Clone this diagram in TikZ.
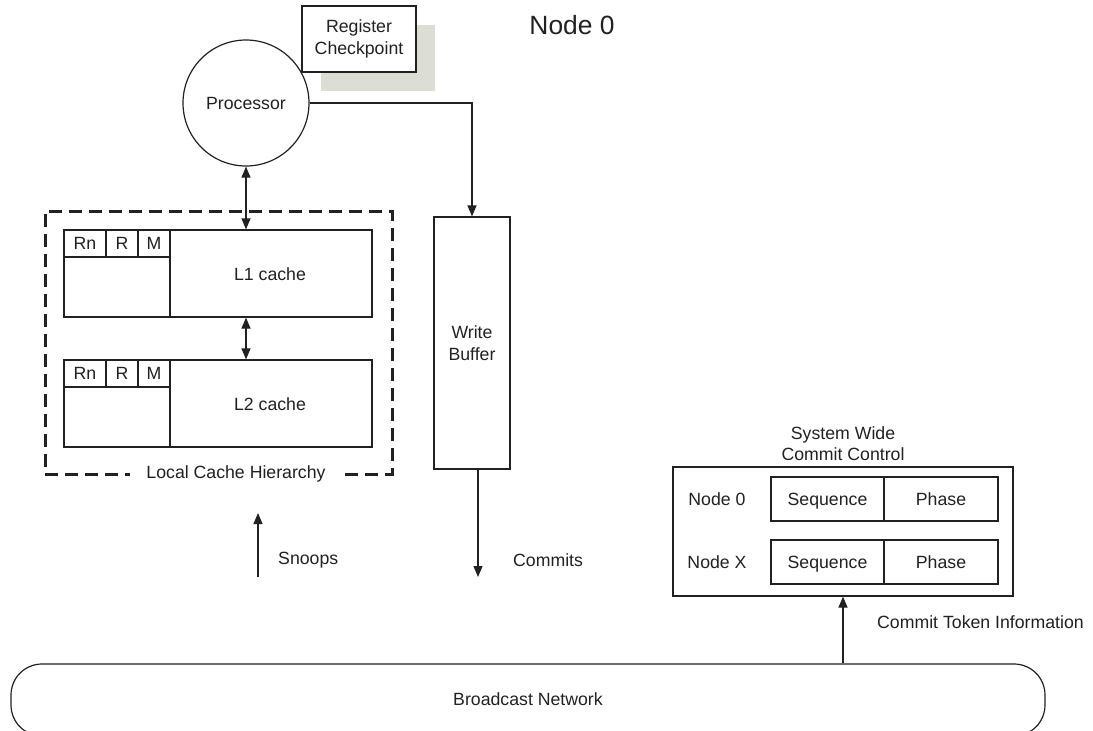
\documentclass[tikz,border=0pt]{standalone}
\usepackage{fontspec}
\setmainfont{Liberation Sans}
\usetikzlibrary{arrows.meta}
\definecolor{ink}{rgb}{0.13,0.13,0.13}
\definecolor{shadowgrey}{RGB}{220,222,213}
\begin{document}
\begin{tikzpicture}[x=1pt,y=-1pt,
  every node/.style={font=\fontsize{17.7}{21.5}\selectfont, text=ink},
  box/.style={draw=ink, line width=1.2pt, inner sep=0pt, align=center},
  cell/.style={box, text height=12.7pt, text depth=0pt},
  conn/.style={draw=ink, line width=1.2pt},
  arr/.style={conn, -{Triangle[length=11pt,width=9pt]}},
  darr/.style={conn, {Triangle[length=11pt,width=9pt]}-{Triangle[length=11pt,width=9pt]}},
  dashbox/.style={draw=ink, line width=3pt, dash pattern=on 13pt off 7pt, inner sep=0pt},
  lbl/.style={inner sep=0pt, align=center}
]
\useasboundingbox (0,0) rectangle (1093,731);
\clip (0,0) rectangle (1093,731);

% title
\node[lbl, font=\fontsize{26.4}{30}\selectfont] (title) at (572,25) {Node 0};

% register checkpoint with shadow
\fill[shadowgrey] (321,25) rectangle (435,91);
\node[box, fill=white, minimum width=114pt, minimum height=66pt] (reg) at (359,39) {Register\\Checkpoint};

% processor
\node[box, circle, minimum size=126pt] (proc) at (246,103) {Processor};

% local cache hierarchy
\node[dashbox, minimum width=347pt, minimum height=263pt] (lch) at (218.5,342.5) {};
\node[lbl, fill=white, inner xsep=16pt, inner ysep=3pt] (lchl) at (236,474) {Local Cache Hierarchy};

% L1
\node[box, minimum width=308pt, minimum height=87pt] (l1) at (218,273.5) {};
\node[box, minimum width=106pt, minimum height=87pt] (l1left) at (117,273.5) {};
\node[cell, minimum width=42pt, minimum height=27pt] (l1rn) at (85,243.5) {Rn};
\node[cell, minimum width=32pt, minimum height=27pt] (l1r) at (122,243.5) {R};
\node[cell, minimum width=32pt, minimum height=27pt] (l1m) at (154,243.5) {M};
\node[lbl] (l1c) at (270,274) {L1 cache};

% L2
\node[box, minimum width=308pt, minimum height=87pt] (l2) at (218,403.5) {};
\node[box, minimum width=106pt, minimum height=87pt] (l2left) at (117,403.5) {};
\node[cell, minimum width=42pt, minimum height=27pt] (l2rn) at (85,373.5) {Rn};
\node[cell, minimum width=32pt, minimum height=27pt] (l2r) at (122,373.5) {R};
\node[cell, minimum width=32pt, minimum height=27pt] (l2m) at (154,373.5) {M};
\node[lbl] (l2c) at (270,404) {L2 cache};

% write buffer
\node[box, minimum width=76pt, minimum height=252pt] (wb) at (472,343) {Write\\Buffer};

% snoops / commits
\coordinate (sbot) at (258,577);
\coordinate (stop) at (258,513);
\node[lbl, anchor=west] (snoops) at (278,560) {Snoops};
\coordinate (cend) at (478,577);
\node[lbl, anchor=west] (commits) at (513,560) {Commits};

% system wide commit control
\node[lbl] (swcc) at (843,443.5) {System Wide\\Commit Control};
\node[box, minimum width=340pt, minimum height=129pt] (ccc) at (843,531.5) {};
\node[lbl, text height=12.7pt, text depth=0pt] (n0) at (717,499) {Node 0};
\node[lbl, text height=12.7pt, text depth=0pt] (nx) at (717,562) {Node X};
\node[cell, minimum width=113pt, minimum height=44pt] (seq0) at (827.5,499) {Sequence};
\node[cell, minimum width=114pt, minimum height=44pt] (ph0) at (941,499) {Phase};
\node[cell, minimum width=113pt, minimum height=44pt] (seqx) at (827.5,562) {Sequence};
\node[cell, minimum width=114pt, minimum height=44pt] (phx) at (941,562) {Phase};
\node[lbl, anchor=west] (cti) at (877,622) {Commit Token Information};

% broadcast network
\node[box, rounded corners=31pt, minimum width=1034pt, minimum height=72pt] (bn) at (528,700) {};
\node[lbl] (bnl) at (528,699) {Broadcast Network};

% connectors
\draw[arr] (proc.east) -| (wb.north);
\draw[darr] (proc.south) -- (proc.south |- l1.north);
\draw[darr] (proc.south |- l1.south) -- (proc.south |- l2.north);
\draw[arr] (cend |- wb.south) -- (cend);
\draw[arr] (sbot) -- (stop);
\draw[arr] (bn.north -| ccc.south) -- (ccc.south);
\end{tikzpicture}
\end{document}
